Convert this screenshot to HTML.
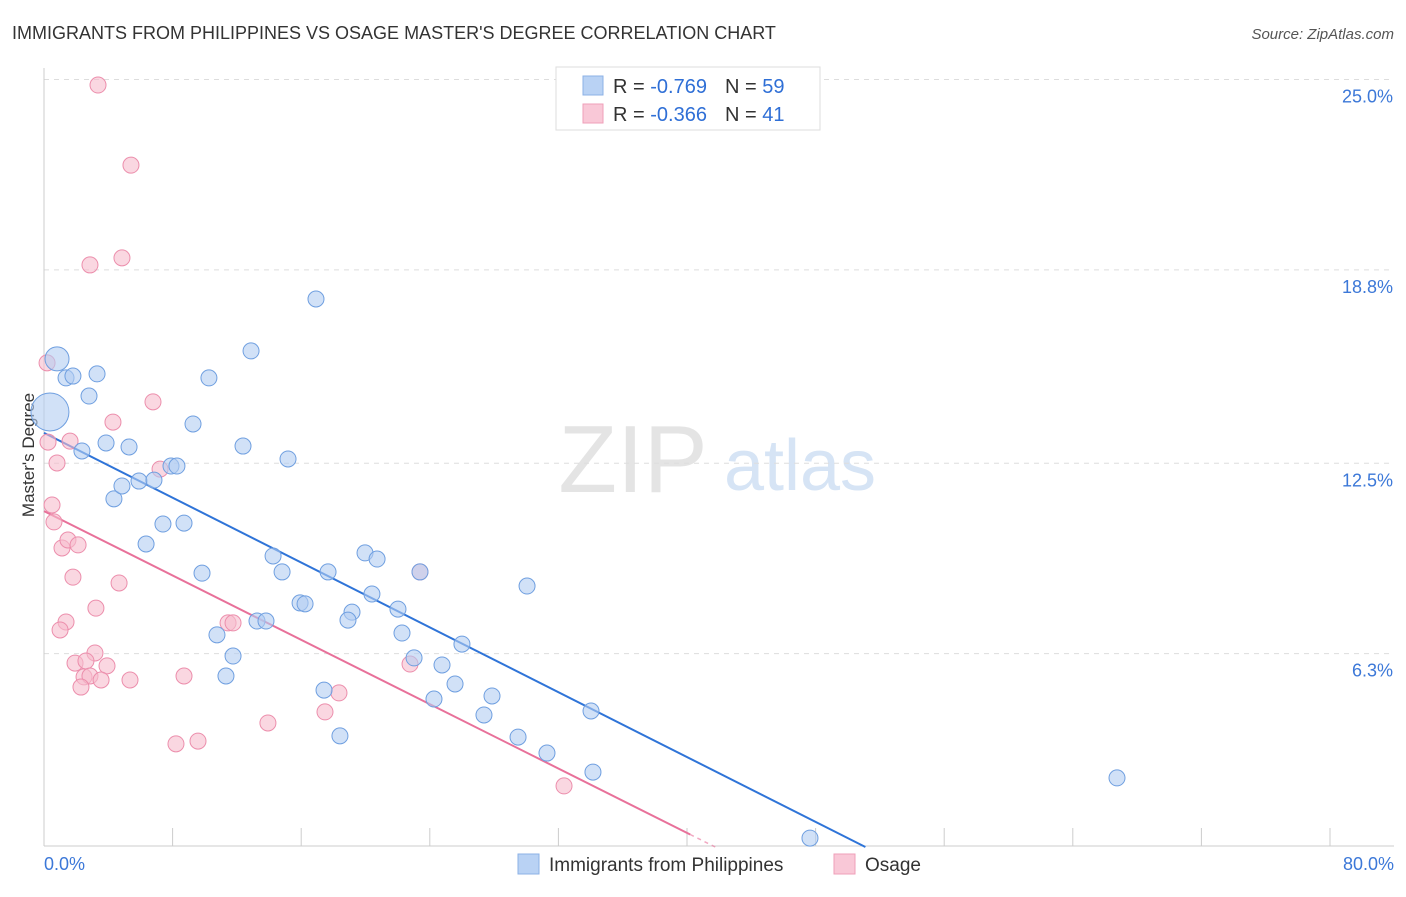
<!DOCTYPE html>
<html><head><meta charset="utf-8"><style>
body{margin:0;background:#fff;font-family:"Liberation Sans",sans-serif;}
svg text{font-family:"Liberation Sans",sans-serif;}
</style></head><body>
<svg id="chart" width="1406" height="892">
<text x="12" y="39" font-size="18" fill="#333">IMMIGRANTS FROM PHILIPPINES VS OSAGE MASTER'S DEGREE CORRELATION CHART</text>
<text x="1394" y="39" font-size="15" fill="#555" font-style="italic" text-anchor="end">Source: ZipAtlas.com</text>
<text x="633" y="492" font-size="96" fill="#e4e4e4" font-family="Liberation Serif" text-anchor="middle">ZIP</text>
<text x="800" y="490" font-size="72" fill="#d6e4f5" text-anchor="middle">atlas</text>
<text x="34" y="455" font-size="17" fill="#333" text-anchor="middle" transform="rotate(-90 34 455)">Master's Degree</text>
<g id="grid"></g><g id="axes"></g><g id="lines"></g><g id="pts"></g>
<g>
<rect x="556" y="67" width="264" height="63" fill="#fff" stroke="#ddd"/>
<rect x="583" y="76" width="20" height="19" fill="#b9d2f4" stroke="#8cb1e6"/>
<rect x="583" y="104" width="20" height="19" fill="#f9c8d7" stroke="#ef9fb8"/>
<text x="613" y="93" font-size="20" fill="#333">R = <tspan fill="#2f6fd6">-0.769</tspan><tspan dx="18">N = </tspan><tspan fill="#2f6fd6">59</tspan></text>
<text x="613" y="121" font-size="20" fill="#333">R = <tspan fill="#2f6fd6">-0.366</tspan><tspan dx="18">N = </tspan><tspan fill="#2f6fd6"> 41</tspan></text>
</g>
<g>
<rect x="518" y="854" width="21" height="20" fill="#b9d2f4" stroke="#8cb1e6"/>
<text x="549" y="871" font-size="19" fill="#333">Immigrants from Philippines</text>
<rect x="834" y="854" width="21" height="20" fill="#f9c8d7" stroke="#ef9fb8"/>
<text x="865" y="871" font-size="19" fill="#333">Osage</text>
</g>
</svg>
<script>
const yTicks=[6.3,12.5,18.8,25.0];
const yTickLabels=["6.3%","12.5%","18.8%","25.0%"];
const xTickLabels=["0.0%","80.0%"];
const blueX=[0.81,0.37,1.37,1.80,3.30,2.80,2.36,3.86,5.29,4.35,4.85,5.91,6.84,7.90,8.27,7.40,8.71,6.35,9.27,10.26,12.88,12.38,15.18,16.92,9.83,14.25,14.81,10.76,11.76,11.32,13.25,13.81,15.93,16.24,17.67,19.97,20.72,19.16,18.91,20.40,22.02,22.27,23.39,23.02,24.76,26.00,24.26,25.57,27.87,27.37,29.49,31.29,30.05,34.03,34.15,18.41,17.42,47.65,66.75];
const blueY=[15.90,14.17,15.28,15.34,15.41,14.69,12.90,13.16,13.03,11.34,11.76,11.92,11.95,12.41,12.41,10.52,10.55,9.87,13.78,15.28,16.16,13.06,12.64,17.85,8.92,9.48,8.96,6.91,6.22,5.57,7.36,7.36,7.95,7.92,8.96,9.58,9.38,7.65,7.39,8.24,7.75,6.97,8.96,6.16,5.93,6.61,4.82,5.31,4.92,4.30,3.58,3.06,8.50,4.43,2.44,3.62,5.11,0.29,2.25];
const pinkX=[3.36,5.41,2.86,4.85,0.19,6.78,4.29,0.25,1.62,0.81,7.22,0.50,0.62,1.12,1.49,2.12,1.80,4.67,3.23,1.37,1.00,3.17,1.93,2.61,3.92,2.49,2.86,3.55,5.35,2.30,8.71,11.45,11.76,8.21,9.58,13.93,17.48,18.35,22.77,23.39,32.35];
const pinkY=[24.82,22.21,18.96,19.19,15.77,14.50,13.84,13.19,13.22,12.51,12.31,11.14,10.59,9.74,10.00,9.84,8.79,8.60,7.78,7.33,7.07,6.32,5.99,6.06,5.90,5.54,5.57,5.44,5.44,5.21,5.57,7.30,7.30,3.36,3.45,4.04,4.40,5.02,5.96,8.96,1.99];
const blueLine=[13.49,-0.264];
const pinkLine=[10.94,-0.262];
const NS="http://www.w3.org/2000/svg";
const X0=44,X1=1330,Y0=847;
const sx=v=>X0+v*(X1-X0)/80;
const sy=v=>Y0-v*30.7;
function mk(tag,attrs,parent){const e=document.createElementNS(NS,tag);for(const k in attrs)e.setAttribute(k,attrs[k]);document.getElementById(parent).appendChild(e);return e;}
yTicks.forEach((t,i)=>{
 const l=mk('line',{x1:X0,x2:1394,y1:sy(t),y2:sy(t),stroke:'#ddd','stroke-dasharray':'5,5'},'grid');
 
 
 const tx=mk('text',{x:1393,y:sy(t)+23,'font-size':18,fill:'#3c78d8','text-anchor':'end'},'axes');
 tx.textContent=yTickLabels[i];
 
 
});
const ax=mk('line',{x1:X0,x2:X0,y1:68,y2:846,stroke:'#ccc'},'axes');


const bx=mk('line',{x1:X0,x2:1394,y1:846,y2:846,stroke:'#ccc'},'axes');


for(let i=0;i<=10;i++){
 const t=mk('line',{x1:sx(i*8),x2:sx(i*8),y1:828,y2:846,stroke:'#ccc'},'axes');
 
 
}
[[0,'start',44],[80,'end',1394]].forEach((d,i)=>{
 const tx=mk('text',{x:d[2],y:870,'font-size':18,fill:'#3c78d8','text-anchor':d[1]},'axes');
 tx.textContent=xTickLabels[i];
 
 
});
function reg(line,color,xEnd,xDash,name){
 const a=mk('line',{x1:sx(0),y1:sy(line[0]),x2:sx(xEnd),y2:sy(line[0]+line[1]*xEnd),stroke:color,'stroke-width':2},'lines');
 
 
 if(xDash>xEnd){
  const b=mk('line',{x1:sx(xEnd),y1:sy(line[0]+line[1]*xEnd),x2:sx(xDash),y2:sy(line[0]+line[1]*xDash),stroke:color,'stroke-width':1.5,'stroke-dasharray':'4,4',opacity:0.6},'lines');
  
  
 }
}
reg(blueLine,'#2f74d8',-blueLine[0]/blueLine[1],0,'philippines-trend-line');
reg(pinkLine,'#e8719a',40.2,-pinkLine[0]/pinkLine[1],'osage-trend-line');
function pts(xs,ys,fill,stroke,name){
 xs.forEach((x,i)=>{
  let r=8;
  if(name==='philippines-point'&&i===0)r=12;
  if(name==='philippines-point'&&i===1)r=19;
  const c=mk('circle',{cx:sx(x),cy:sy(ys[i]),r:r,fill:fill,stroke:stroke,'stroke-width':1,'fill-opacity':0.6},'pts');
  
  
 });
}
pts(pinkX,pinkY,'#f7bccd','#ec8eac','osage-point');
pts(blueX,blueY,'#b3cdf1','#6f9fe0','philippines-point');
</script>
</body></html>
